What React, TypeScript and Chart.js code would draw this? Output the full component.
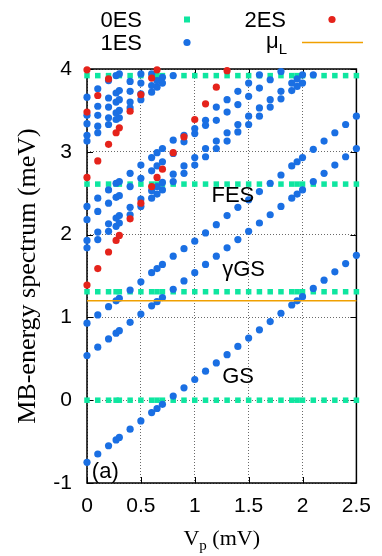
import React, { useEffect, useRef } from 'react';
import { Chart, registerables } from 'chart.js';

Chart.register(...registerables);

// ---------- data ----------
const VP = [0, 0.1, 0.2, 0.27, 0.3, 0.4, 0.5, 0.6, 0.65, 0.7, 0.8, 0.9, 1.0, 1.1, 1.2, 1.3, 1.4, 1.5, 1.6, 1.7, 1.8, 1.9, 1.95, 2.0, 2.1, 2.2, 2.3, 2.4, 2.5];

const X_TICKS = [0, 0.5, 1, 1.5, 2, 2.5];
const Y_TICKS = [-1, 0, 1, 2, 3, 4];

// 0ES: constant levels
const ES0_LEVELS = [0, 1.31, 2.61, 3.92];

// 1ES branches (values at VP, from the first column on)
const ES1_GS = [-0.75, -0.65, -0.55, -0.48, -0.45, -0.35, -0.25, -0.15, -0.10, -0.05, 0.05, 0.15, 0.25, 0.35, 0.45, 0.55, 0.65, 0.75, 0.85, 0.95, 1.05, 1.15, 1.20, 1.25, 1.35, 1.45, 1.55, 1.65, 1.75];
const ES1_A = [0.54, 0.64, 0.74, 0.81, 0.84, 0.94, 1.04, 1.14, 1.19, 1.24, 1.34, 1.44, 1.54, 1.64, 1.74, 1.84, 1.94, 2.04, 2.14, 2.24, 2.34, 2.44, 2.49, 2.54, 2.64, 2.74, 2.84, 2.94, 3.04];
const ES1_B = [0.93, 1.03, 1.13, 1.20, 1.23, 1.33, 1.43, 1.54, 1.59, 1.64, 1.74, 1.83, 1.92, 2.02, 2.12, 2.23, 2.33, 2.42, 2.52, 2.62, 2.72, 2.83, 2.88, 2.93, 3.03, 3.13, 3.23, 3.33, 3.43];
const ES1_C = [1.84, 1.94, 2.04, 2.10, 2.14, 2.24, 2.34, 2.44, 2.49, 2.54, 2.64, 2.74, 2.84, 2.94, 3.04, 3.13, 3.24, 3.33, 3.43, 3.54, 3.64, 3.74, 3.79, 3.83, 3.93];
const ES1_D = [1.93, 2.03, 2.13, 2.20, 2.23, 2.33, 2.43, 2.53, 2.58, 2.63, 2.73, 2.83, 2.93, 3.04, 3.13, 3.23, 3.33, 3.43, 3.53, 3.63, 3.73, 3.83, 3.88, 3.93];
const ES1_E = [2.18, 2.28, 2.38, 2.45, 2.47, 2.58, 2.68, 2.77, 2.83, 2.88, 2.98, 3.12, 3.22, 3.32, 3.38, 3.48, 3.57, 3.67, 3.77, 3.87, 3.97];
const ES1_F = [2.34, 2.44, 2.54, 2.62, 2.64, 2.74, 2.84, 2.93, 2.99, 3.04, 3.14, 3.20, 3.28, 3.38, 3.54, 3.63, 3.73, 3.83, 3.93];
const ES1_G = [3.13, 3.23, 3.33, 3.39, 3.41, 3.53, 3.63, 3.72, 3.78, 3.83, 3.92];
const ES1_H = [3.20, 3.31, 3.41, 3.47, 3.50, 3.60, 3.70, 3.80, 3.86, 3.90];
const ES1_I = [3.34, 3.44, 3.54, 3.60, 3.63, 3.73, 3.83, 3.94];
const ES1_J = [3.44, 3.55, 3.65, 3.71, 3.74, 3.85, 3.94];
const ES1_K = [3.66, 3.76, 3.86, 3.92, 3.94];

// 2ES branches
const ES2_A = [1.39, 1.59, 1.79, 1.93, 1.99, 2.19, 2.38, 2.58, 2.69, 2.79, 2.99, 3.18, 3.39, 3.58, 3.78, 3.98];
const ES2_B = [2.69, 2.89, 3.09, 3.23, 3.29, 3.49, 3.69, 3.89, 3.99];
const ES2_C = [3.48, 3.68, 3.88];
const ES2_D = [3.99];

// chemical potential
const MU_L = 1.2;

// text labels placed in data units
const LABELS = [
  { text: 'FES', x: 1.155, y: 2.39 },
  { text: '\u03b3GS', x: 1.255, y: 1.5 },
  { text: 'GS', x: 1.255, y: 0.205 },
  { text: '(a)', x: 0.045, y: -0.94 },
];

// ---------- styling ----------
const SANS = '"Liberation Sans", Arial, Helvetica, sans-serif';
const SERIF = '"Liberation Serif", "Times New Roman", serif';
const C_ES0 = '#0ee6a0';
const C_ES1 = '#1a6fe3';
const C_ES2 = '#e5231b';
const C_MU = '#f0a000';
const R_DOT = 3.6;

type P = { x: number; y: number };
const toPoints = (ys: number[]): P[] => ys.map((y, i) => ({ x: VP[i], y }));

const es0Points: P[] = ES0_LEVELS.flatMap((lvl) => VP.map((x) => ({ x, y: lvl })));
const es1Points: P[] = [ES1_GS, ES1_A, ES1_B, ES1_C, ES1_D, ES1_E, ES1_F, ES1_G, ES1_H, ES1_I, ES1_J, ES1_K].flatMap(toPoints);
const es2Points: P[] = [ES2_A, ES2_B, ES2_C, ES2_D].flatMap(toPoints);
const muPoints: P[] = [{ x: X_TICKS[0], y: MU_L }, { x: X_TICKS[X_TICKS.length - 1], y: MU_L }];

const overlayPlugin = {
  id: 'overlay',
  beforeDatasetsDraw(chart: any) {
    const { ctx, chartArea: a, scales } = chart;
    const xs = scales.x;
    const ys = scales.y;
    ctx.save();
    ctx.strokeStyle = '#000';
    ctx.lineWidth = 1;
    const tl = 6;
    ctx.beginPath();
    X_TICKS.forEach((v) => {
      const px = Math.round(xs.getPixelForValue(v)) + 0.5;
      ctx.moveTo(px, a.bottom);
      ctx.lineTo(px, a.bottom - tl);
      ctx.moveTo(px, a.top);
      ctx.lineTo(px, a.top + tl);
    });
    Y_TICKS.forEach((v) => {
      const py = Math.round(ys.getPixelForValue(v)) + 0.5;
      ctx.moveTo(a.left, py);
      ctx.lineTo(a.left + tl, py);
      ctx.moveTo(a.right, py);
      ctx.lineTo(a.right - tl, py);
    });
    ctx.stroke();
    ctx.lineWidth = 1.5;
    ctx.strokeRect(a.left, a.top, a.right - a.left, a.bottom - a.top);
    ctx.restore();
  },
  afterDraw(chart: any) {
    const { ctx, chartArea: a, scales } = chart;
    ctx.save();
    ctx.fillStyle = '#000';
    ctx.textBaseline = 'alphabetic';

    // annotations
    ctx.font = `22px ${SANS}`;
    ctx.textAlign = 'left';
    LABELS.forEach((l) => {
      ctx.fillText(l.text, scales.x.getPixelForValue(l.x), scales.y.getPixelForValue(l.y));
    });

    // legend (gnuplot style: text then sample)
    ctx.textAlign = 'right';
    ctx.fillText('0ES', 142, 27);
    ctx.fillText('1ES', 142, 50);
    ctx.fillText('2ES', 286, 27);
    ctx.font = `15px ${SANS}`;
    ctx.fillText('L', 287, 54);
    const lw = ctx.measureText('L').width;
    ctx.font = `22px ${SANS}`;
    ctx.fillText('\u03bc', 287 - lw, 48);

    ctx.fillStyle = C_ES0;
    ctx.fillRect(184, 16.5, 6, 6);
    ctx.fillStyle = C_ES1;
    ctx.beginPath();
    ctx.arc(187, 42.5, R_DOT, 0, Math.PI * 2);
    ctx.fill();
    ctx.fillStyle = C_ES2;
    ctx.beginPath();
    ctx.arc(332, 19.5, R_DOT, 0, Math.PI * 2);
    ctx.fill();
    ctx.strokeStyle = C_MU;
    ctx.lineWidth = 1.5;
    ctx.beginPath();
    ctx.moveTo(302, 42.5);
    ctx.lineTo(363, 42.5);
    ctx.stroke();

    // x axis title with subscript
    ctx.fillStyle = '#000';
    ctx.textAlign = 'left';
    const big = `22px ${SERIF}`;
    const small = `15px ${SERIF}`;
    ctx.font = big;
    const wV = ctx.measureText('V').width;
    const wRest = ctx.measureText(' (mV)').width;
    ctx.font = small;
    const wp = ctx.measureText('p').width;
    const total = wV + wp + wRest;
    let x0 = (a.left + a.right) / 2 - total / 2;
    const base = 545;
    ctx.font = big;
    ctx.fillText('V', x0, base);
    x0 += wV;
    ctx.font = small;
    ctx.fillText('p', x0, base + 5);
    x0 += wp;
    ctx.font = big;
    ctx.fillText(' (mV)', x0, base);
    ctx.restore();
  },
};

export default function App() {
  const ref = useRef<HTMLCanvasElement | null>(null);

  useEffect(() => {
    if (!ref.current) return;
    const chart = new Chart(ref.current, {
      type: 'scatter',
      data: {
        datasets: [
          {
            label: '\u03bcL',
            data: muPoints,
            showLine: true,
            borderColor: C_MU,
            borderWidth: 1.5,
            pointRadius: 0,
            order: 0,
            clip: false,
          } as any,
          {
            label: '2ES',
            data: es2Points,
            backgroundColor: C_ES2,
            borderWidth: 0,
            pointRadius: R_DOT,
            pointStyle: 'circle',
            order: 1,
            clip: false,
          },
          {
            label: '1ES',
            data: es1Points,
            backgroundColor: C_ES1,
            borderWidth: 0,
            pointRadius: R_DOT,
            pointStyle: 'circle',
            order: 2,
            clip: false,
          },
          {
            label: '0ES',
            data: es0Points,
            backgroundColor: C_ES0,
            borderWidth: 0,
            pointRadius: 3.9,
            pointStyle: 'rect',
            order: 3,
            clip: false,
          },
        ],
      },
      options: {
        responsive: false,
        animation: false,
        events: [],
        layout: { padding: { top: 69, right: 20, bottom: 0, left: 0 } },
        plugins: {
          legend: { display: false },
          tooltip: { enabled: false },
        },
        scales: {
          x: {
            type: 'linear',
            min: 0,
            max: 2.5,
            afterBuildTicks: (s: any) => {
              s.ticks = X_TICKS.map((v) => ({ value: v }));
            },
            afterFit: (s: any) => {
              s.height = 73;
            },
            ticks: {
              color: '#000',
              font: { family: SANS, size: 21 },
              padding: 11,
              maxRotation: 0,
              autoSkip: false,
              callback: (v: any) => String(v),
            },
            grid: { color: '#6a6a6a', lineWidth: 1, drawTicks: false },
            border: { display: false, dash: [1, 2] },
          },
          y: {
            type: 'linear',
            min: -1,
            max: 4,
            afterBuildTicks: (s: any) => {
              s.ticks = Y_TICKS.map((v) => ({ value: v }));
            },
            afterFit: (s: any) => {
              s.width = 87;
            },
            ticks: {
              color: '#000',
              font: { family: SANS, size: 21 },
              padding: 15,
              autoSkip: false,
              callback: (v: any) => String(v),
            },
            grid: { color: '#6a6a6a', lineWidth: 1, drawTicks: false },
            border: { display: false, dash: [1, 2] },
            title: {
              display: true,
              text: 'MB-energy spectrum (meV)',
              color: '#000',
              font: { family: SERIF, size: 26 },
              padding: 13,
            },
          },
        },
      },
      plugins: [overlayPlugin],
    });
    return () => chart.destroy();
  }, []);

  return (
    <div style={{ position: 'fixed', left: 0, top: 0, width: 382, height: 556, background: '#fff' }}>
      <canvas ref={ref} width={382} height={556} style={{ display: 'block', width: 382, height: 556 }} />
    </div>
  );
}
